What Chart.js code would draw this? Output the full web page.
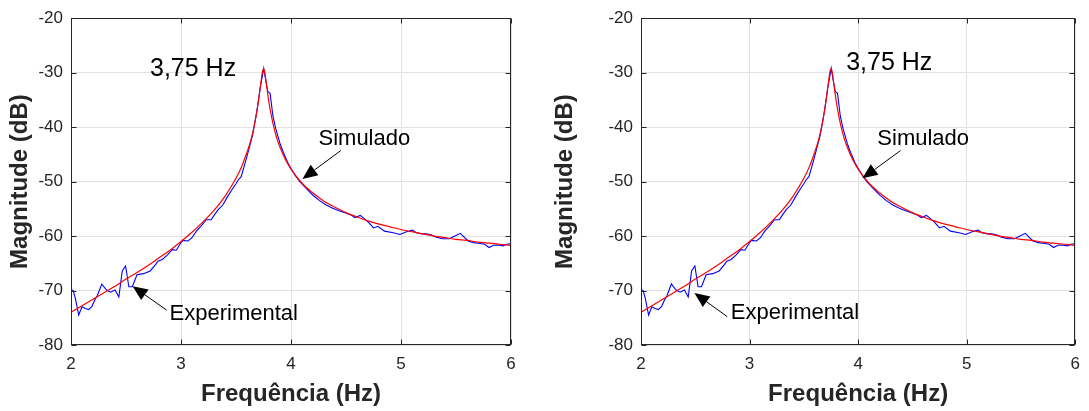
<!DOCTYPE html>
<html>
<head>
<meta charset="utf-8">
<script src="https://cdn.jsdelivr.net/npm/chart.js@4.4.1/dist/chart.umd.min.js"></script>
<style>
html,body{margin:0;padding:0;background:#fff;width:1089px;height:411px;overflow:hidden}
.c{position:absolute;top:0;height:411px}
</style>
</head>
<body>
<div class="c" style="left:0;width:545px"><canvas id="c1" width="545" height="411"></canvas></div>
<div class="c" style="left:545px;width:544px"><canvas id="c2" width="544" height="411"></canvas></div>
<script>
// ---------- data ----------
const xTicks = [2, 3, 4, 5, 6];
const yTicks = [-80, -70, -60, -50, -40, -30, -20];

// Experimental (blue)
const freqExp = [2.00,2.02,2.04,2.07,2.10,2.13,2.16,2.19,2.22,2.24,
  2.28,2.31,2.33,2.36,2.40,2.435,2.466,2.496,2.526,2.557,
  2.60,2.66,2.72,2.77,2.79,2.83,2.875,2.92,2.957,2.99,
  3.017,3.063,3.10,3.14,3.19,3.23,3.275,3.30,3.34,3.38,
  3.42,3.46,3.50,3.52,3.547,3.58,3.61,3.65,3.69,3.72,
  3.752,3.775,3.79,3.81,3.836,3.86,3.90,3.93,3.97,4.00,
  4.04,4.08,4.14,4.20,4.26,4.32,4.38,4.443,4.504,4.55,
  4.58,4.63,4.655,4.70,4.75,4.79,4.85,4.93,4.99,5.05,
  5.105,5.14,5.19,5.23,5.28,5.32,5.38,5.44,5.49,5.54,
  5.565,5.61,5.66,5.72,5.76,5.80,5.84,5.88,5.93,5.96,
  6.00];
const magExp = [-69.8,-70.0,-71.5,-74.5,-73.0,-73.3,-73.5,-72.9,-71.6,-70.9,
  -68.8,-69.6,-70.0,-70.3,-69.9,-71.2,-66.4,-65.5,-69.3,-69.3,
  -67.1,-66.9,-66.4,-65.2,-64.6,-64.3,-63.5,-62.5,-62.6,-61.5,
  -60.8,-60.9,-60.3,-59.1,-58.0,-57.0,-57.0,-56.2,-55.1,-54.3,
  -52.9,-51.6,-50.4,-49.7,-49.1,-46.8,-44.6,-41.5,-37.0,-32.8,
  -29.2,-31.9,-33.5,-33.8,-38.0,-40.2,-43.0,-44.6,-46.5,-47.6,
  -48.9,-50.0,-51.3,-52.5,-53.5,-54.3,-54.9,-55.4,-55.8,-56.2,
  -56.6,-56.2,-56.6,-57.4,-58.5,-58.2,-59.1,-59.4,-59.7,-59.2,
  -58.9,-59.4,-59.6,-59.6,-59.8,-60.2,-60.5,-60.5,-60.0,-59.5,
  -60.0,-60.9,-61.2,-61.35,-61.5,-62.1,-61.7,-61.65,-61.8,-61.5,
  -61.4];

// Simulado (red)
const freqSim = [2.0,2.1,2.2,2.3,2.4,2.5,2.6,2.7,2.8,2.9,
  3.0,3.1,3.2,3.3,3.4,3.5,3.55,3.6,3.625,3.65,
  3.675,3.7,3.725,3.74,3.75,3.76,3.775,3.8,3.825,3.85,
  3.875,3.9,3.95,4.0,4.1,4.2,4.3,4.4,4.5,4.6,
  4.7,4.8,4.9,5.0,5.1,5.2,5.3,5.4,5.5,5.6,
  5.7,5.8,5.9,6.0];
const magSim = [-74.0,-72.8,-71.6,-70.4,-69.2,-67.9,-66.7,-65.4,-64.0,-62.6,
  -61.0,-59.3,-57.4,-55.3,-52.7,-49.4,-47.3,-44.6,-43.1,-41.2,
  -38.8,-35.8,-32.0,-29.9,-29.3,-29.8,-31.9,-35.5,-38.3,-40.5,
  -42.3,-43.7,-46.0,-47.7,-50.3,-52.1,-53.6,-54.7,-55.7,-56.5,
  -57.2,-57.8,-58.3,-58.8,-59.2,-59.6,-60.0,-60.3,-60.6,-60.8,
  -61.1,-61.3,-61.5,-61.7];

// annotation texts (data coordinates)
const peakLabel = '3,75 Hz';
const simLabel = 'Simulado';
const expLabel = 'Experimental';
const notesLeft = {
  texts: [[peakLabel, 2.718, -30.6, 25], [simLabel, 4.25, -43.3, 22], [expLabel, 2.896, -75.4, 22]],
  arrows: [[4.453, -44.3, 4.104, -49.5], [2.87, -73.6, 2.56, -69.2]]
};
const notesRight = {
  texts: [[peakLabel, 3.89, -29.5, 25], [simLabel, 4.177, -43.3, 22], [expLabel, 2.827, -75.2, 22]],
  arrows: [[4.391, -44.3, 4.04, -49.4], [2.795, -74.8, 2.492, -70.45]]
};

// ---------- styling ----------
const FONT = '"Liberation Sans", Arial, Helvetica, sans-serif';
const AXIS_COLOR = '#262626';

const framePlugin = {
  id: 'frame',
  afterDraw(chart, args, opts) {
    const {ctx, chartArea: a, scales: {x, y}} = chart;
    ctx.save();
    const L = Math.round(a.left) + 0.5, R = Math.round(a.right) - 0.5;
    const T = Math.round(a.top) + 0.5, B = Math.round(a.bottom) - 0.5;
    ctx.strokeStyle = AXIS_COLOR;
    ctx.lineWidth = 1;
    ctx.strokeRect(L, T, R - L, B - T);
    const tl = 5;
    ctx.beginPath();
    xTicks.forEach(v => {
      const px = Math.round(x.getPixelForValue(v)) + 0.5;
      ctx.moveTo(px, B); ctx.lineTo(px, B - tl);
      ctx.moveTo(px, T); ctx.lineTo(px, T + tl);
    });
    yTicks.forEach(v => {
      const py = Math.round(y.getPixelForValue(v)) + 0.5;
      ctx.moveTo(L, py); ctx.lineTo(L + tl, py);
      ctx.moveTo(R, py); ctx.lineTo(R - tl, py);
    });
    ctx.stroke();

    const n = opts.notes;
    ctx.fillStyle = '#000';
    ctx.strokeStyle = '#000';
    ctx.textAlign = 'left';
    ctx.textBaseline = 'alphabetic';
    n.texts.forEach(t => {
      ctx.font = t[3] + 'px ' + FONT;
      ctx.fillText(t[0], x.getPixelForValue(t[1]), y.getPixelForValue(t[2]));
    });
    n.arrows.forEach(ar => {
      const x0 = x.getPixelForValue(ar[0]), y0 = y.getPixelForValue(ar[1]);
      const x1 = x.getPixelForValue(ar[2]), y1 = y.getPixelForValue(ar[3]);
      const ang = Math.atan2(y1 - y0, x1 - x0);
      const HL = 15, HW = 6.5;
      const c = Math.cos(ang), s = Math.sin(ang);
      const bx = x1 - HL * c, by = y1 - HL * s;
      ctx.lineWidth = 1;
      ctx.beginPath(); ctx.moveTo(x0, y0); ctx.lineTo(bx, by); ctx.stroke();
      ctx.beginPath();
      ctx.moveTo(x1, y1);
      ctx.lineTo(bx + HW * s, by - HW * c);
      ctx.lineTo(bx - HW * s, by + HW * c);
      ctx.closePath(); ctx.fill();
    });
    ctx.restore();
  }
};

function makeChart(id, area, canvasW, notes) {
  return new Chart(document.getElementById(id), {
    type: 'line',
    data: {
      datasets: [
        { label: simLabel, data: freqSim.map((f, i) => ({x: f, y: magSim[i]})),
          borderColor: '#ff0000', borderWidth: 1.2, pointRadius: 0,
          cubicInterpolationMode: 'monotone', fill: false },
        { label: expLabel, data: freqExp.map((f, i) => ({x: f, y: magExp[i]})),
          borderColor: '#0000ff', borderWidth: 1.1, pointRadius: 0, tension: 0, fill: false }
      ]
    },
    options: {
      responsive: false, animation: false, devicePixelRatio: 1,
      layout: { padding: { left: 0, top: area.top, right: canvasW - area.right, bottom: 0 } },
      plugins: { legend: {display: false}, tooltip: {enabled: false}, frame: {notes} },
      scales: {
        x: {
          type: 'linear', min: 2, max: 6,
          afterBuildTicks(s) { s.ticks = xTicks.map(v => ({value: v})); },
          afterFit(s) { s.height = 411 - area.bottom; },
          grid: { color: '#e2e2e2', lineWidth: 1, drawTicks: false },
          border: { display: false },
          ticks: { color: AXIS_COLOR, font: {family: FONT, size: 17}, padding: 9,
                   maxRotation: 0, autoSkip: false, callback: v => String(v) },
          title: { display: true, text: 'Frequência (Hz)', color: AXIS_COLOR,
                   font: {family: FONT, size: 24, weight: 'bold', lineHeight: 1.2},
                   padding: {top: 0, bottom: 2} }
        },
        y: {
          type: 'linear', min: -80, max: -20,
          afterBuildTicks(s) { s.ticks = yTicks.map(v => ({value: v})); },
          afterFit(s) { s.width = area.left; },
          grid: { color: '#e2e2e2', lineWidth: 1, drawTicks: false },
          border: { display: false },
          ticks: { color: AXIS_COLOR, font: {family: FONT, size: 17}, padding: 8,
                   autoSkip: false, callback: v => String(v) },
          title: { display: true, text: 'Magnitude (dB)', color: AXIS_COLOR,
                   font: {family: FONT, size: 24, weight: 'bold', lineHeight: 1.2},
                   padding: {top: 6, bottom: 0} }
        }
      }
    },
    plugins: [framePlugin]
  });
}

makeChart('c1', {left: 71, right: 511, top: 14, bottom: 345}, 545, notesLeft);
makeChart('c2', {left: 96, right: 535, top: 14, bottom: 345}, 544, notesRight);
</script>
</body>
</html>
